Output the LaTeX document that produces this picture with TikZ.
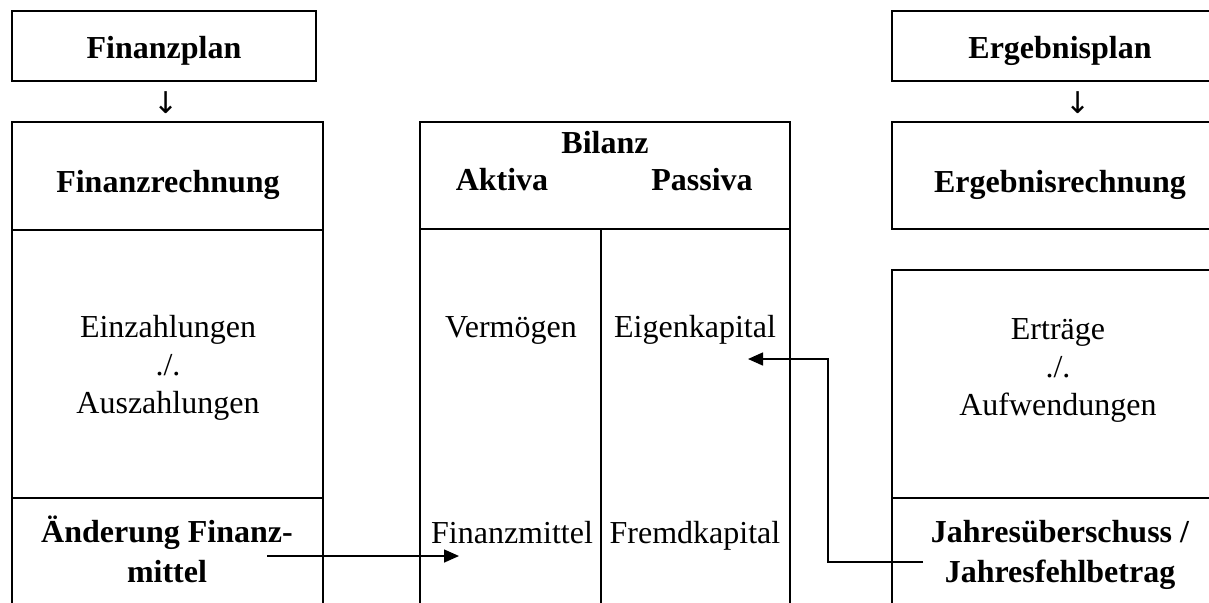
\documentclass[tikz,border=0pt]{standalone}
\usepackage{fontspec}
\setmainfont{Liberation Serif}
\newfontfamily\arrowfont{DejaVu Sans}
\usetikzlibrary{arrows.meta}

\tikzset{
  frame/.style={line width=1.3pt},
  link/.style={line width=0.75pt, -{Triangle[length=7.5pt,width=6.5pt]}},
  txt/.style={inner sep=0pt, align=center, font=\fontsize{16}{19}\selectfont},
  hd/.style={inner sep=0pt, align=center, font=\bfseries\fontsize{16}{20}\selectfont},
  downarrow/.style={inner sep=0pt, font=\arrowfont\fontsize{15}{18}\selectfont},
}

\begin{document}
\begin{tikzpicture}[x=0.5pt, y=-0.5pt]
\useasboundingbox (0,0) rectangle (1209,602);

% --- Finanzplan / Finanzrechnung column
\draw[frame] (12,11) rectangle (316,81);
\draw[frame] (12,610) -- (12,122) -- (323,122) -- (323,610);
\draw[frame] (12,230) -- (323,230);
\draw[frame] (12,498) -- (323,498);

\node[hd, anchor=base] (fplan) at (164,58) {Finanzplan};
\node[downarrow, anchor=center] (fdown) at (166,103) {↓};
\node[hd, anchor=base] (frech) at (168,192) {Finanzrechnung};
\node[txt, anchor=base] (fein) at (168,413) {Einzahlungen\\./.\\Auszahlungen};
\node[hd, anchor=base] (fchg) at (167,582) {Änderung Finanz-\\mittel};

% --- Bilanz column
\draw[frame] (420,610) -- (420,122) -- (790,122) -- (790,610);
\draw[frame] (420,229) -- (790,229);
\draw[frame] (601,229) -- (601,610);

\node[hd, anchor=base] (bil) at (605,153) {Bilanz};
\node[hd, anchor=base] (akt) at (502,190) {Aktiva};
\node[hd, anchor=base] (pas) at (702,190) {Passiva};
\node[txt, anchor=base] (verm) at (511,337) {Vermögen};
\node[txt, anchor=base] (eigen) at (695,337) {Eigenkapital};
\node[txt, anchor=base] (fmit) at (512,543) {Finanzmittel};
\node[txt, anchor=base] (fremd) at (695,543) {Fremdkapital};

% --- Ergebnisplan / Ergebnisrechnung column
\draw[frame] (1220,11) -- (892,11) -- (892,81) -- (1220,81);
\draw[frame] (1220,122) -- (892,122) -- (892,229) -- (1220,229);
\draw[frame] (1220,270) -- (892,270) -- (892,610);
\draw[frame] (892,498) -- (1220,498);

\node[hd, anchor=base] (eplan) at (1060,58) {Ergebnisplan};
\node[downarrow, anchor=center] (edown) at (1078,103) {↓};
\node[hd, anchor=base] (erech) at (1060,192) {Ergebnisrechnung};
\node[txt, anchor=base] (ertr) at (1058,415) {Erträge\\./.\\Aufwendungen};
\node[hd, anchor=base] (jahr) at (1060,582) {Jahresüberschuss /\\Jahresfehlbetrag};

% --- connectors
\coordinate (chgStart) at (267,556);
\coordinate (chgEnd) at (459,556);
\draw[link] (chgStart) -- (chgEnd);

\coordinate (resStart) at (923,562);
\coordinate (resBend) at (828,562);
\coordinate (resEnd) at (748,359);
\draw[link] (resStart) -- (resBend) |- (resEnd);
\end{tikzpicture}
\end{document}
